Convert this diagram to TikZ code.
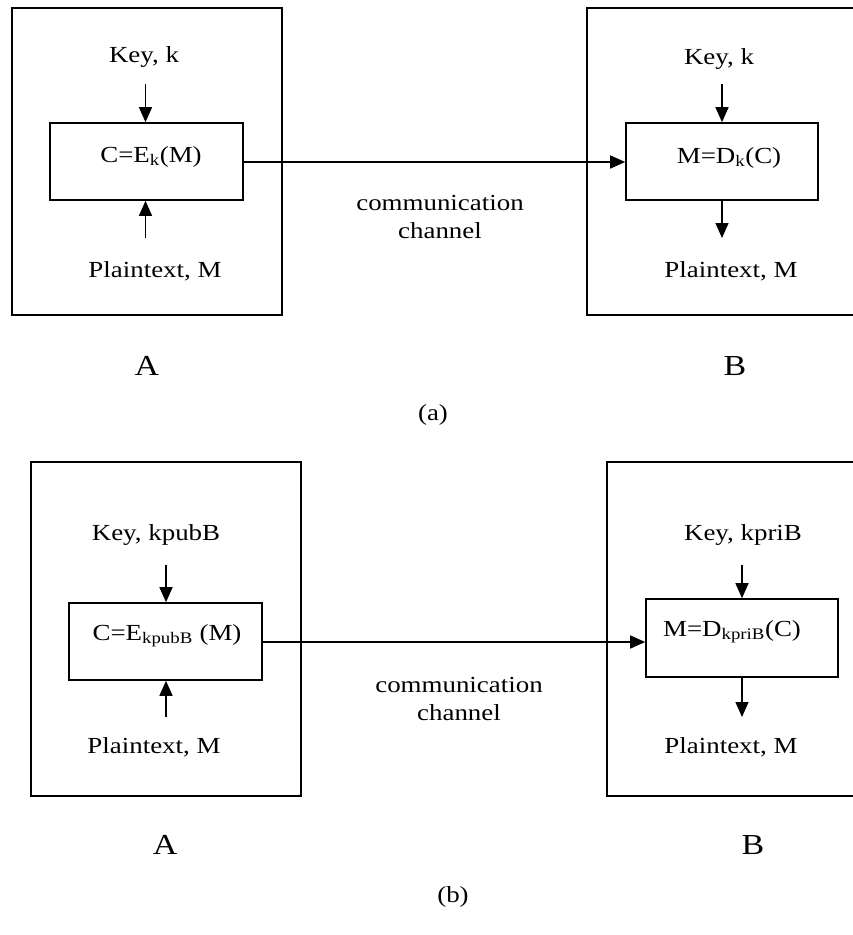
\documentclass[tikz,border=0pt]{standalone}
\usepackage{fontspec}
\setmainfont{Liberation Serif}[FakeStretch=1.17]
\usetikzlibrary{arrows.meta}
\begin{document}
\begin{tikzpicture}[x=1pt,y=-1pt,
  font=\fontsize{23}{27}\selectfont,
  frame/.style={line width=1.6pt},
  inner/.style={draw,line width=1.6pt,inner sep=0pt},
  txt/.style={inner sep=0pt,anchor=base},
  big/.style={txt,font=\fontsize{29}{33}\selectfont},
  arw/.style={line width=1.4pt,-{Triangle[length=15pt,width=13pt]}}]
\useasboundingbox (0,0) rectangle (853,935);
\clip (0,0) rectangle (853,935);

% ---------- (a) symmetric key ----------
\draw[frame] (12,8) rectangle (282,315);
\draw[frame] (865,8) -- (587,8) -- (587,315) -- (865,315);

\node[inner,minimum width=193pt,minimum height=77pt] (encA) at (146.5,161.5) {};
\node[txt] (encAt) at (151,162) {C=E\textsubscript{k}(M)};
\node[txt] (keyA) at (144,62) {Key, k};
\node[txt] (ptA) at (155,277) {Plaintext, M};
\coordinate (kA) at (145.5,84);
\coordinate (pA) at (145.5,238);
\draw[arw] (kA) -- (kA |- encA.north);
\draw[arw] (pA) -- (pA |- encA.south);

\node[inner,minimum width=192pt,minimum height=77pt] (decB) at (722,161.5) {};
\node[txt] (decBt) at (729,163) {M=D\textsubscript{k}(C)};
\node[txt] (keyB) at (719,64) {Key, k};
\node[txt] (ptB) at (731,277) {Plaintext, M};
\coordinate (kB) at (722,84);
\coordinate (pB) at (722,238);
\draw[arw] (kB) -- (kB |- decB.north);
\draw[arw] (pB |- decB.south) -- (pB);

\coordinate (chA) at (243,162);
\draw[arw] (chA) -- (chA -| decB.west);
\node[txt] (comA) at (440,210) {communication};
\node[txt] (chnA) at (440,238) {channel};

\node[big] (lblA1) at (147,375) {A};
\node[big] (lblB1) at (735,375) {B};
\node[txt] (capa) at (433,420) {(a)};

% ---------- (b) public key ----------
\draw[frame] (31,462) rectangle (301,796);
\draw[frame] (865,462) -- (607,462) -- (607,796) -- (865,796);

\node[inner,minimum width=193pt,minimum height=77pt] (encC) at (165.5,641.5) {};
\node[txt] (encCt) at (167,640) {C=E\textsubscript{kpubB} (M)};
\node[txt] (keyC) at (156,540) {Key, kpubB};
\node[txt] (ptC) at (154,753) {Plaintext, M};
\coordinate (kC) at (166,565);
\coordinate (pC) at (166,717);
\draw[arw] (kC) -- (kC |- encC.north);
\draw[arw] (pC) -- (pC |- encC.south);

\node[inner,minimum width=192pt,minimum height=78pt] (decD) at (742,638) {};
\node[txt] (decDt) at (732,636) {M=D\textsubscript{kpriB}(C)};
\node[txt] (keyD) at (743,540) {Key, kpriB};
\node[txt] (ptD) at (731,753) {Plaintext, M};
\coordinate (kD) at (742,565);
\coordinate (pD) at (742,717);
\draw[arw] (kD) -- (kD |- decD.north);
\draw[arw] (pD |- decD.south) -- (pD);

\coordinate (chC) at (262,642);
\draw[arw] (chC) -- (chC -| decD.west);
\node[txt] (comC) at (459,692) {communication};
\node[txt] (chnC) at (459,720) {channel};

\node[big] (lblA2) at (165,854) {A};
\node[big] (lblB2) at (753,854) {B};
\node[txt] (capb) at (453,902) {(b)};
\end{tikzpicture}
\end{document}
